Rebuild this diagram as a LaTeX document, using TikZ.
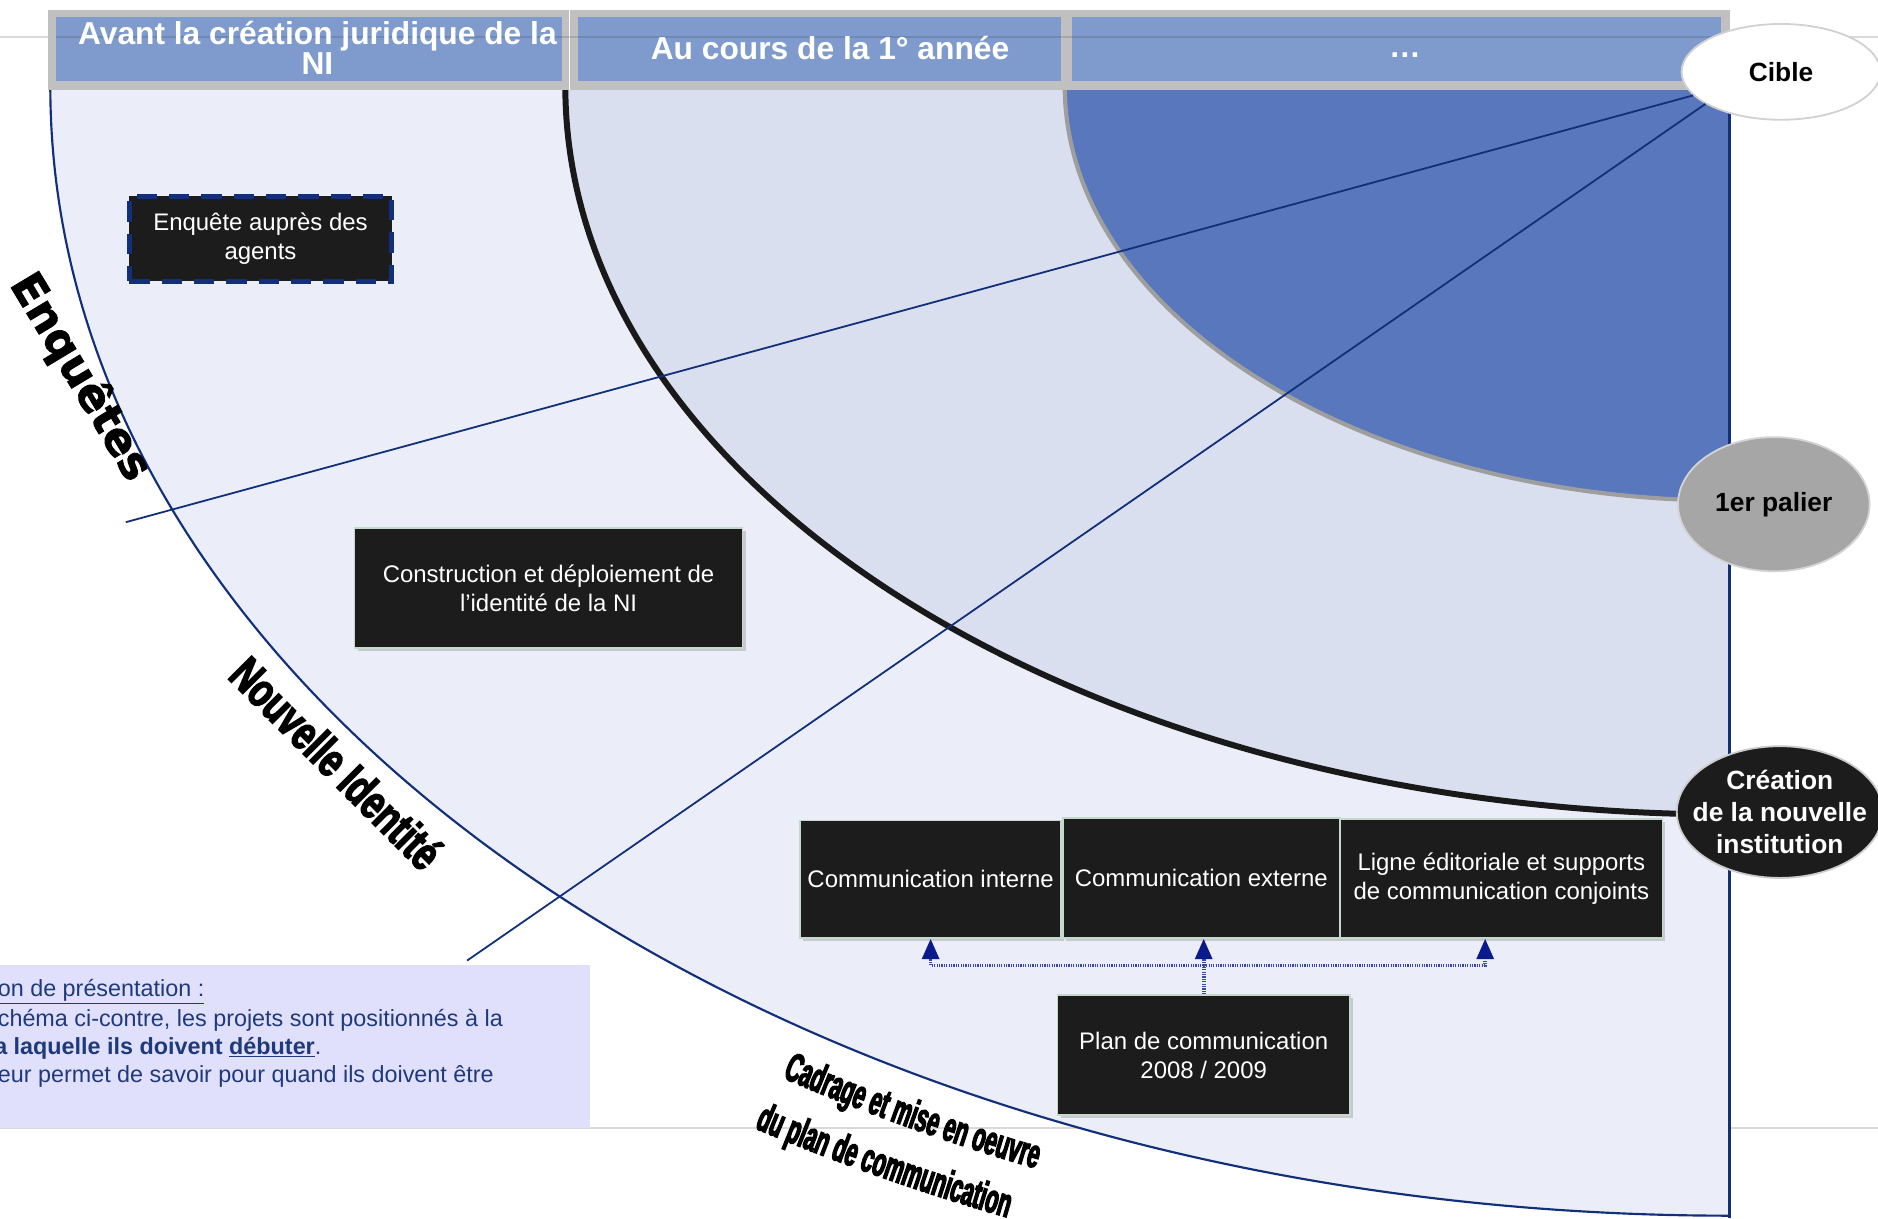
\documentclass[tikz,border=0pt]{standalone}
\usepackage{fontspec}
\setmainfont{Liberation Sans}
\newfontfamily\wideheavy[FakeBold=2]{DejaVu Sans}
\newfontfamily\condA[FakeStretch=0.72,FakeBold=3]{Liberation Sans}
\newfontfamily\condB[FakeStretch=0.52,FakeBold=3]{Liberation Sans}
\usetikzlibrary{decorations.text,shapes.geometric,arrows.meta,shadows}
\definecolor{outerc}{HTML}{EBEEF8}
\definecolor{midc}{HTML}{DADFEF}
\definecolor{innerc}{HTML}{5877BC}
\definecolor{hdrblue}{HTML}{7F9BCE}
\definecolor{hdrgray}{HTML}{C0C0C0}
\definecolor{navy}{HTML}{12307A}
\definecolor{boxc}{HTML}{1C1C1C}
\definecolor{boxborder}{HTML}{C4D8CC}
\definecolor{infoc}{HTML}{E0E0FC}
\definecolor{infotext}{HTML}{1F3A7A}
\definecolor{slidel}{HTML}{D9D9D9}
\definecolor{connc}{HTML}{3A48A8}
\definecolor{arrowc}{HTML}{0A1A8A}
\begin{document}
\begin{tikzpicture}[x=1pt,y=1pt,
  blk/.style={rectangle, fill=boxc, draw=boxborder, line width=1.5pt, text=white,
    font=\fontsize{20}{24}\selectfont, align=center, inner sep=0pt,
    drop shadow={shadow xshift=2.5pt, shadow yshift=-2.5pt, fill=black!35, opacity=.5}},
  hdrtext/.style={text=white, font=\bfseries\fontsize{26.5}{25}\selectfont, align=center, inner sep=0pt},
  ray/.style={draw=navy, line width=1.5pt},
  conn/.style={draw=connc, line width=3pt, dash pattern=on 1pt off 1pt},
  tip/.style={-{Triangle[length=17pt,width=14pt,color=arrowc]}},
  info/.style={anchor=west, inner sep=0pt, text=infotext, font=\fontsize{19.5}{23}\selectfont},
  ell/.style={ellipse, inner xsep=-22pt, inner ysep=-12pt, line width=1.5pt, align=center, font=\bfseries\fontsize{22}{27}\selectfont}
]
\useasboundingbox (0,0) rectangle (1568,-1017);
\fill[white] (0,0) rectangle (1568,-1017);
% slide lines
\draw[slidel, line width=1.5pt] (0,-31) -- (1568,-31);
\draw[slidel, line width=1.5pt] (0,-942) -- (1568,-942);
% regions
\fill[outerc] (1444,-72) -- (42,-72) arc[start angle=180,end angle=270,x radius=1402,y radius=943] -- cycle;
\draw[navy, line width=1.8pt] (42,-72) arc[start angle=180,end angle=270,x radius=1402,y radius=943];
\fill[midc] (1444,-72) -- (472,-72) arc[start angle=180,end angle=270,x radius=972,y radius=608] -- cycle;
\draw[black!90, line width=5pt] (472,-72) arc[start angle=180,end angle=270,x radius=972,y radius=608];
\fill[innerc] (1444,-72) -- (889,-72) arc[start angle=180,end angle=270,x radius=555,y radius=346] -- cycle;
\draw[black!38, line width=3.5pt] (889,-72) arc[start angle=180,end angle=270,x radius=555,y radius=346];
\draw[navy, line width=2pt] (1444,-72) -- (1444,-1017);
% header
\fill[hdrgray] (40,-8) rectangle (1444,-75);
\fill[hdrblue] (47,-14) rectangle (469,-68);
\fill[hdrblue] (483,-14) rectangle (886,-68);
\fill[hdrblue] (895,-14) rectangle (1437,-68);
\draw[white, line width=1.5pt] (475.5,-8) -- (475.5,-75);
\draw[black, opacity=.12, line width=1.5pt] (47,-31) -- (1437,-31);
\node[hdrtext] (h1) at (265,-40) {Avant la création juridique de la\\NI};
\node[hdrtext] (h2) at (693,-40) {Au cours de la 1° année};
\node[hdrtext] (h3) at (1173,-46) {…};
% ellipses
\node[ell, fill=white, draw=black!18, minimum width=166pt, minimum height=80pt] (cible) at (1487,-60) {Cible};
\node[ell, fill=black!35, draw=black!17, minimum width=160pt, minimum height=112pt] (palier) at (1481,-421) {1er palier};
\node[ell, fill=boxc, draw=black!20, text=white, minimum width=172pt, minimum height=110pt] (crea) at (1486,-678) {Création\\de la nouvelle\\institution};
% rays
\coordinate (r1) at (105,-436);
\coordinate (r2) at (390,-802);
\draw[ray] (cible.195) -- (r1);
\draw[ray] (cible.203) -- (r2);
% boxes
\node[rectangle, fill=boxc, draw=navy, line width=4pt, dash pattern=on 17pt off 10pt, text=white,
  font=\fontsize{20}{24}\selectfont, align=center, inner sep=0pt,
  minimum width=219pt, minimum height=71pt] (enq) at (217.5,-199.5) {Enquête auprès des\\agents};
\node[blk, minimum width=324pt, minimum height=100pt] (cons) at (458,-491) {Construction et déploiement de\\l’identité de la NI};
\node[blk, minimum width=218pt, minimum height=98pt] (ci) at (777,-734) {Communication interne};
\node[blk, minimum width=231pt, minimum height=100pt] (ce) at (1003,-733) {Communication externe};
\node[blk, minimum width=269pt, minimum height=99pt] (ll) at (1253.5,-733.5) {Ligne éditoriale et supports\\de communication conjoints};
\node[blk, minimum width=244pt, minimum height=100pt] (plan) at (1005,-881) {Plan de communication\\2008 / 2009};
% connectors
\coordinate (j) at (1005,-806);
\draw[conn] (plan.north) -- (j);
\draw[conn, tip] (j) -| (ci.south);
\draw[conn, tip] (j) -- (j |- ce.south);
\draw[conn, tip] (j) -| ([xshift=-13.5pt]ll.south);
% info box
\fill[infoc] (0,-806) rectangle (493,-942);
\node[info] (i1) at (-2,-828) {\underline{on de présentation :}};
\node[info] (i2) at (-2,-852) {chéma ci-contre, les projets sont positionnés à la};
\node[info] (i3) at (-5,-875) {\bfseries a laquelle ils doivent \underline{débuter}\mdseries.};
\node[info] (i4) at (-2,-899) {eur permet de savoir pour quand ils doivent être};
% curved labels
\node[rotate=-59, inner sep=0pt, font=\wideheavy\bfseries\fontsize{37}{37}\selectfont] (enqlab) at (67,-315) {Enquêtes};
\node[rotate=-45, inner sep=0pt, font=\condA\bfseries\fontsize{40}{40}\selectfont] (nilab) at (281,-637) {Nouvelle Identité};
\begin{scope}[shift={(1444,-72)}]
\path[decorate, decoration={text along path, text align=center,
  text={|\condB\bfseries\fontsize{34}{34}\selectfont|Cadrage et mise en oeuvre}}]
  (231.8:1463 and 984) arc[start angle=231.8,end angle=251.8,x radius=1463,y radius=984];
\path[decorate, decoration={text along path, text align=center,
  text={|\condB\bfseries\fontsize{34}{34}\selectfont|du plan de communication}}]
  (232.1:1528 and 1028) arc[start angle=232.1,end angle=252.1,x radius=1528,y radius=1028];
\end{scope}
\end{tikzpicture}
\end{document}
